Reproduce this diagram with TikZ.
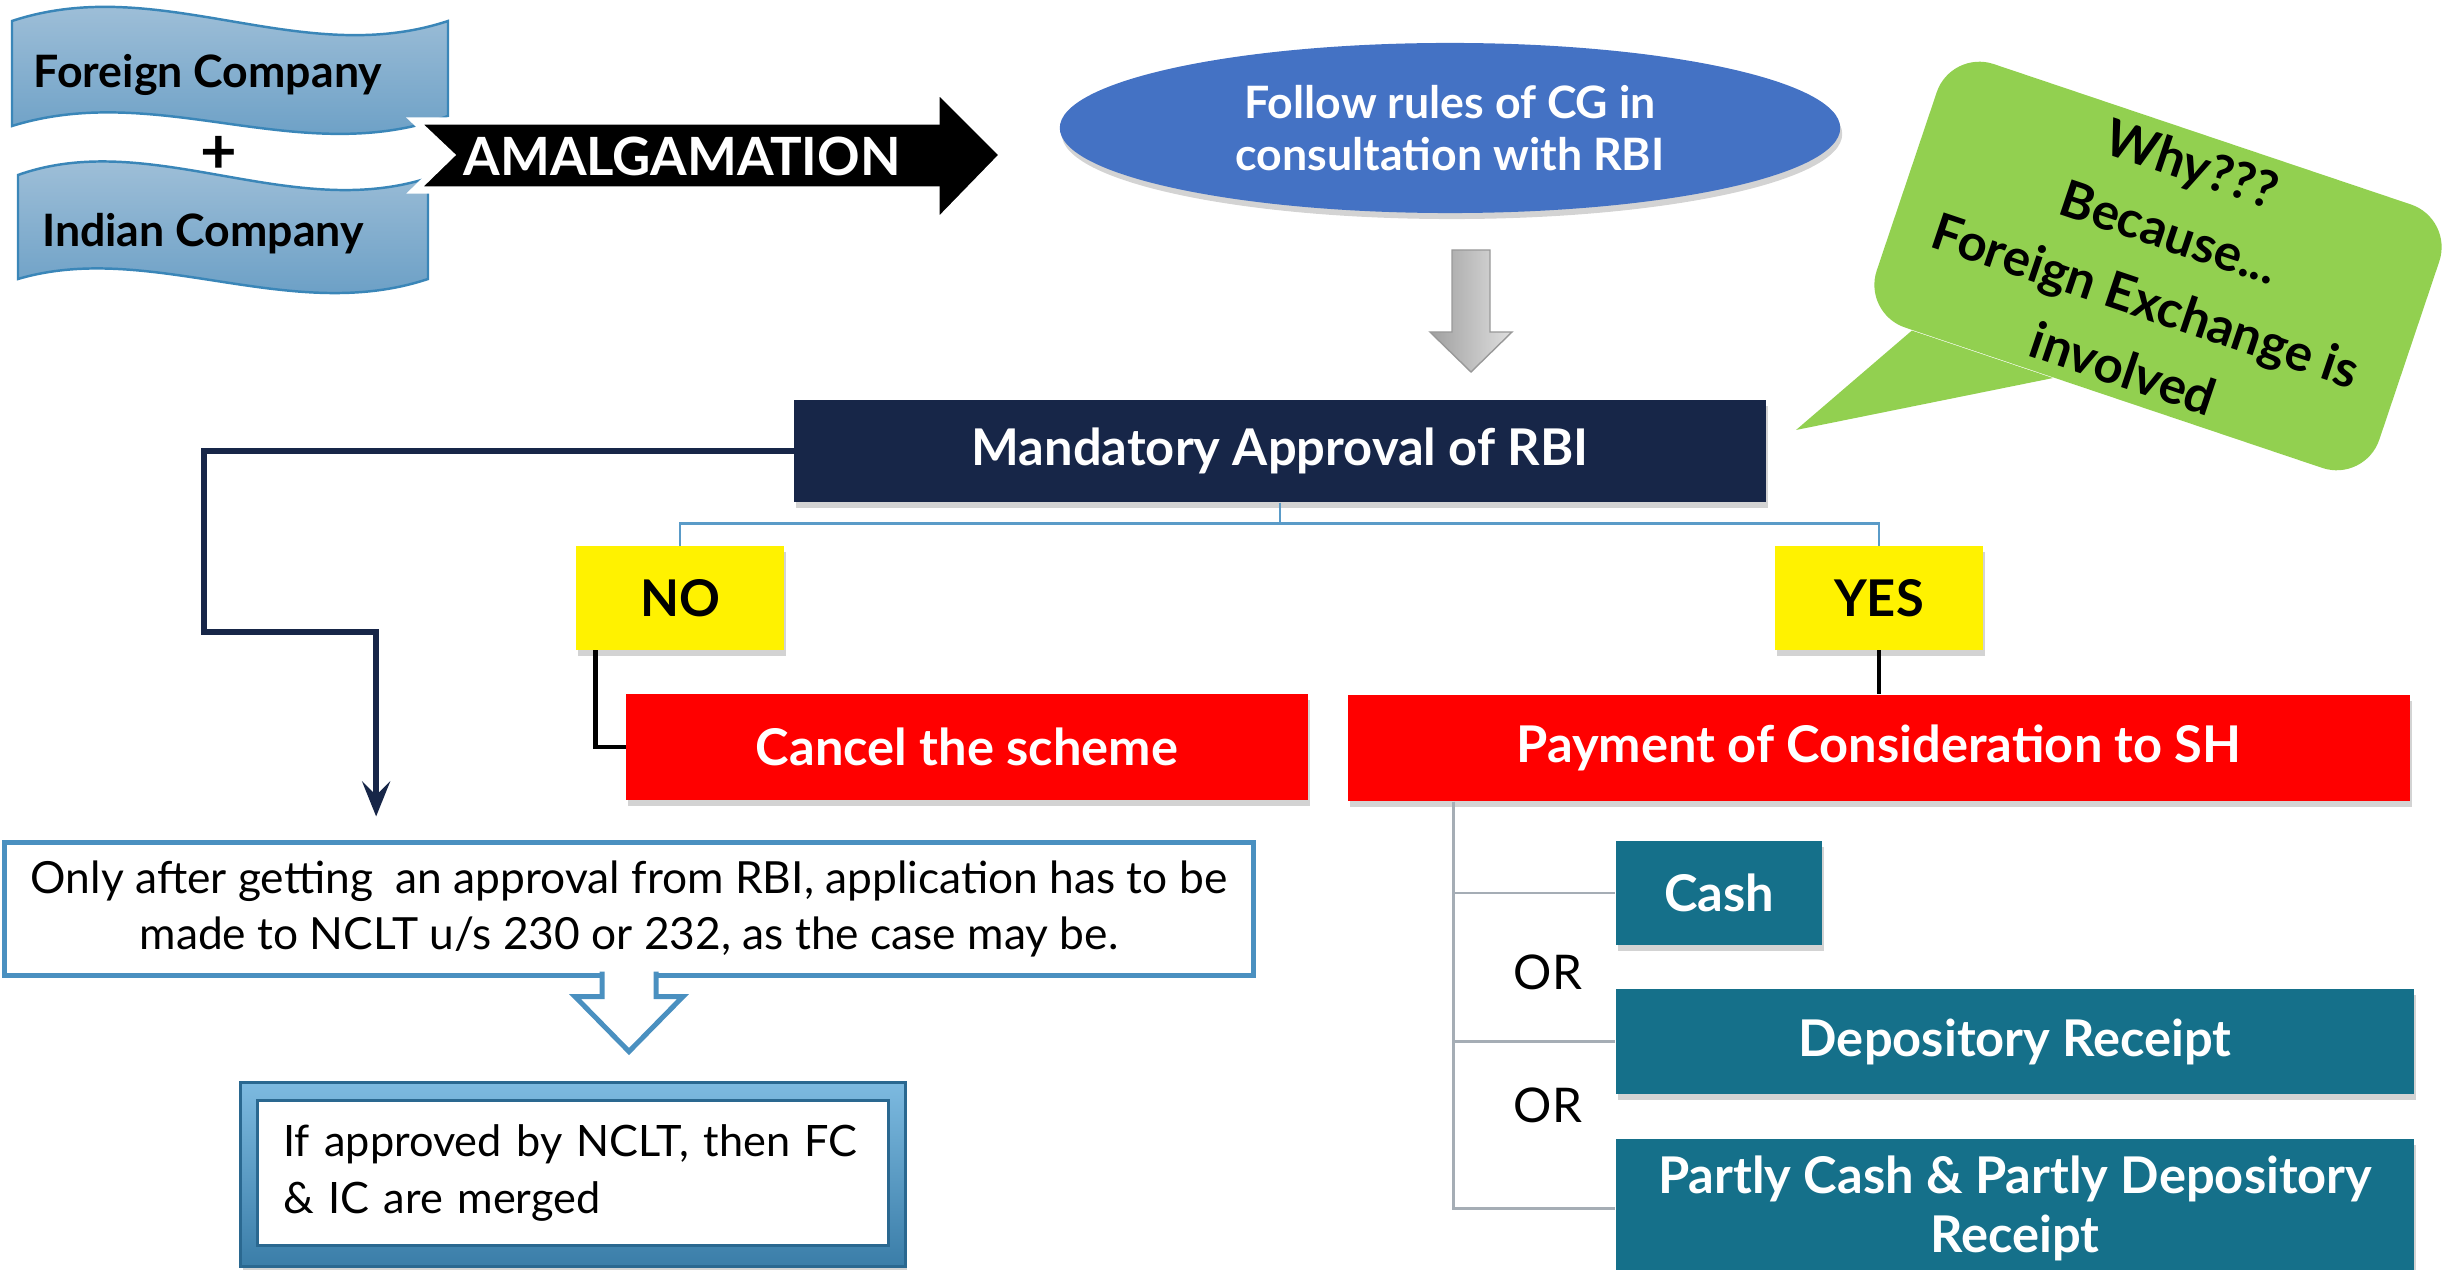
\documentclass[tikz,border=0pt]{standalone}
\usepackage{fontspec}
\setmainfont{Lato}
\usetikzlibrary{calc,positioning,shapes.geometric,shadows,arrows.meta}

\definecolor{navy}{HTML}{172648}
\definecolor{royal}{HTML}{4472C4}
\definecolor{leaf}{HTML}{92D050}
\definecolor{sea}{HTML}{15708A}
\definecolor{steel}{HTML}{4A90C0}
\definecolor{branchblue}{HTML}{5A9BC8}
\definecolor{ashgrey}{HTML}{A5ADB5}
\definecolor{bannertop}{HTML}{AAC6DC}
\definecolor{bannerbot}{HTML}{6199C2}
\definecolor{bannerline}{HTML}{3A86B8}
\definecolor{frametop}{HTML}{7DBAE0}
\definecolor{framebot}{HTML}{3A7DA8}
\definecolor{framedark}{HTML}{2A6890}

\tikzstyle{arrow} = [line width=1.7pt, navy, -{Stealth[length=10pt, width=8pt, inset=4pt]}]
\tikzstyle{line} = [line width=1.4pt, black]
\tikzstyle{branch} = [line width=0.7pt, branchblue]
\tikzstyle{option} = [line width=0.7pt, ashgrey]
\pgfdeclarelayer{background}
\pgfsetlayers{background,main}

\begin{document}
\begin{tikzpicture}[x=0.01cm, y=-0.01cm]
\tikzset{%
	bigtext/.style = { font=\fontsize{14.4}{17}\selectfont\bfseries },
	plaintext/.style = { font=\fontsize{12.6}{16}\selectfont },
	shadowed/.style = { drop shadow={shadow xshift=0.02cm, shadow yshift=-0.06cm, opacity=0.35} },
	banner/.style = { draw=bannerline, line width=0.7pt, top color=bannertop, bottom color=bannerbot },
	company/.style = { font=\fontsize{12.7}{15}\selectfont\bfseries },
	box/.style = { rectangle, text=white, bigtext, shadowed },
	answer/.style = { rectangle, fill=yellow, bigtext, minimum width=2.07cm, minimum height=1.03cm, shadowed },
	choice/.style = { rectangle, fill=sea, text=white, bigtext, minimum height=1.04cm, shadowed },
	bubble/.style = { rectangle, rounded corners=0.45cm, fill=leaf, rotate=-18.6, minimum width=5.3cm, minimum height=2.45cm, align=center, font=\fontsize{14.5}{20.5}\selectfont\bfseries },
	notice/.style = { rectangle, draw=steel, line width=0.05cm, fill=white, minimum width=12.48cm, minimum height=1.32cm, align=center, plaintext },
	merged/.style = { rectangle, text width=5.79cm, inner xsep=0.25cm, minimum height=1.44cm, align=left, font=\fontsize{12.3}{16}\selectfont },
	frame/.style = { draw=framedark, line width=0.8pt, top color=frametop, bottom color=framebot, shadowed }
}
\useasboundingbox (0,0) rectangle (2450,1270);

% the two companies
\shadedraw[banner] (12,21) .. controls (160,-28) and (300,70) .. (448,21) -- (448,116)
	.. controls (300,170) and (160,80) .. (12,126) -- cycle;
\shadedraw[banner] (18,175) .. controls (150,128) and (290,222) .. (428,178) -- (428,279)
	.. controls (290,325) and (150,240) .. (18,279) -- cycle;
\node(Foreign)		[company] at (208,75)		{Foreign Company};
\node(Plus)			[font=\fontsize{18}{18}\selectfont\bfseries] at (219,155)		{+};
\node(Indian)		[company] at (203,234)		{Indian Company};

\filldraw[fill=black, draw=white, line width=2pt] (415,121) -- (936,121) -- (936,88) -- (1003,155)
	-- (936,224) -- (936,190) -- (415,190) -- (451,155) -- cycle;
\node(Amalgamation)	[text=white, font=\fontsize{15}{18}\selectfont\bfseries] at (682,156)
								{AMALGAMATION};

\node(Follow)		[ellipse, fill=royal, text=white, align=center, minimum width=7.8cm, minimum height=1.7cm,
					 font=\fontsize{12.7}{15}\selectfont\bfseries, shadowed] at (1450,128)
								{Follow rules of CG in\\consultation with RBI};

\coordinate (Drop) at (1471,250);
\shadedraw[left color=gray!75, right color=gray!25, draw=gray!80] ($(Drop)+(-19,0)$) -- ++(38,0) -- ++(0,82)
	-- ++(22,0) -- ($(Drop)+(0,122)$) -- ($(Drop)+(-41,82)$) -- ++(22,0) -- cycle;

\node(Why)			[bubble] at (2158,266)
								{Why???\\Because...\\Foreign Exchange is\\involved};
\coordinate (WhyTip) at (1796,430);
\fill[leaf] ($(Why.south west)!0.1!(Why.south east)$) -- (WhyTip) -- ($(Why.south west)!0.38!(Why.south east)$) -- cycle;

\node(Mandatory)	[box, fill=navy, minimum width=9.71cm, minimum height=1.02cm] at (1280,451)
								{Mandatory Approval of RBI};
\node(No)			[answer] at (680,598)		{NO};
\node(Yes)			[answer] at (1879,598)		{YES};

\node(Cancel)		[box, fill=red, minimum width=6.81cm, minimum height=1.06cm] at (967,747)
								{Cancel the scheme};
\node(Payment)		[box, fill=red, minimum width=10.61cm, minimum height=1.06cm, below=0.44cm of Yes]
								{Payment of Consideration to SH};

\node(Cash)			[choice, minimum width=2.06cm] at (1719,893)
								{Cash};
\node(Depository)	[choice, minimum width=7.98cm, below=0.43cm of Cash.south west, anchor=north west]
								{Depository Receipt};
\node(Partly)		[choice, minimum width=7.98cm, minimum height=1.39cm, align=center,
					 below=0.44cm of Depository.south west, anchor=north west]
								{Partly Cash \& Partly Depository\\Receipt};
\node(OrA)			[font=\fontsize{13.6}{16}\selectfont] at (1548,972)	{OR};
\node(OrB)			[font=\fontsize{13.6}{16}\selectfont] at (1548,1105)	{OR};

\node(OnlyAfter)	[notice] at (629,909)
								{Only after getting\ \ an approval from RBI, application has to be\\made to NCLT u/s 230 or 232, as the case may be.};
\filldraw[draw=steel, fill=white, line width=0.05cm] ($(OnlyAfter.south)+(-27,-6)$) -- ++(0,25) -- ++(-27,0)
	-- ($(OnlyAfter.south)+(0,74)$) -- ($(OnlyAfter.south)+(54,19)$) -- ++(-27,0) -- ++(0,-25);

\node(IfApproved)	[merged] at (573,1173)
								{If approved by NCLT, then FC\\\& IC are merged};
\begin{pgfonlayer}{background}
\shadedraw[frame] ($(IfApproved.north west)+(-17,-18)$) rectangle ($(IfApproved.south east)+(17,21)$);
\filldraw[fill=white, draw=framedark, line width=0.8pt] (IfApproved.north west) rectangle (IfApproved.south east);
\end{pgfonlayer}

\draw [branch]	(Mandatory.south) -- ++(0,21) -| (No.north);
\draw [branch]	(Mandatory.south) -- ++(0,21) -| (Yes.north);
\draw [line]	([xshift=0.2cm]No.south west) |- (Cancel.west);
\draw [line]	(Yes.south) -- (Payment.north);
\draw [arrow]	(Mandatory.west) -| ++(-590,181) -| ($(OnlyAfter.north west)+(374,-24)$);

\draw [option]	([xshift=1.06cm]Payment.south west) |- (Cash.west);
\draw [option]	([xshift=1.06cm]Payment.south west) |- (Depository.west);
\draw [option]	([xshift=1.06cm]Payment.south west) |- (Partly.west);

\end{tikzpicture}
\end{document}
